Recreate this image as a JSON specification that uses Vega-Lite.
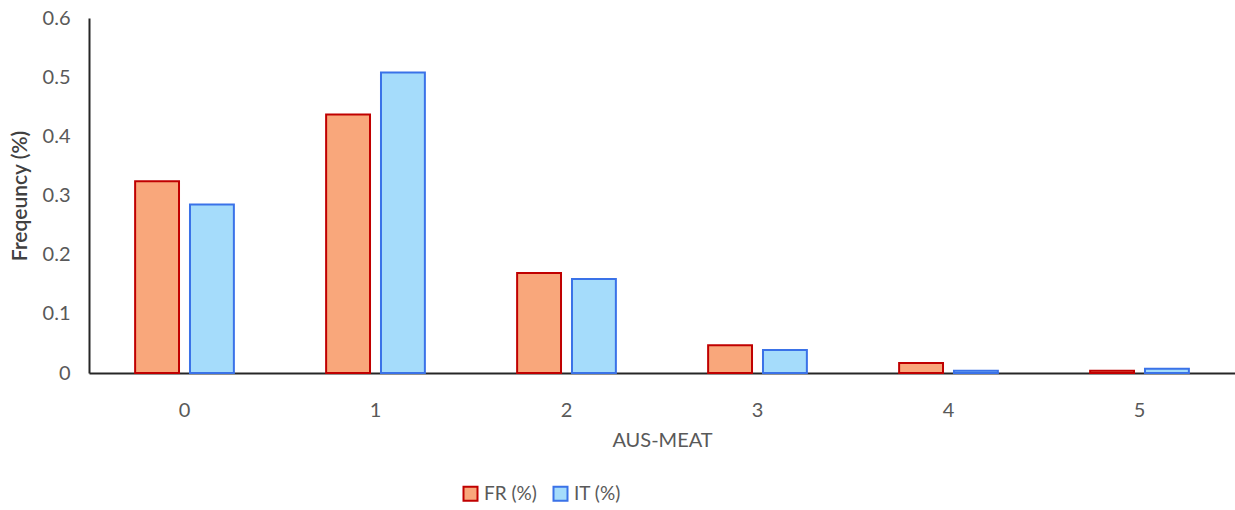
{
  "$schema": "https://vega.github.io/schema/vega-lite/v6.json",
  "width": 1146,
  "height": 355,
  "autosize": {"type": "none"},
  "padding": {"left": 89, "top": 18, "right": 0, "bottom": 137},
  "background": "white",
  "config": {"view": {"stroke": null}, "font": "Lato"},
  "data": {
    "values": [
      {"grade": "0", "series": "FR (%)", "value": 0.324},
      {"grade": "0", "series": "IT (%)", "value": 0.285},
      {"grade": "1", "series": "FR (%)", "value": 0.437},
      {"grade": "1", "series": "IT (%)", "value": 0.508},
      {"grade": "2", "series": "FR (%)", "value": 0.169},
      {"grade": "2", "series": "IT (%)", "value": 0.159},
      {"grade": "3", "series": "FR (%)", "value": 0.047},
      {"grade": "3", "series": "IT (%)", "value": 0.039},
      {"grade": "4", "series": "FR (%)", "value": 0.017},
      {"grade": "4", "series": "IT (%)", "value": 0.004},
      {"grade": "5", "series": "FR (%)", "value": 0.004},
      {"grade": "5", "series": "IT (%)", "value": 0.007}
    ]
  },
  "mark": {"type": "bar", "strokeWidth": 2},
  "encoding": {
    "x": {
      "field": "grade",
      "type": "nominal",
      "scale": {"paddingInner": 0.483, "paddingOuter": 0.2415},
      "axis": {
        "title": "AUS-MEAT",
        "labelAngle": 0,
        "ticks": false,
        "domainColor": "#262626",
        "domainWidth": 2,
        "labelColor": "#595959",
        "labelFontSize": 20,
        "labelPadding": 27,
        "titleColor": "#595959",
        "titleFontSize": 20,
        "titleFontWeight": "normal",
        "titlePadding": 10
      }
    },
    "xOffset": {
      "field": "series",
      "type": "nominal",
      "scale": {"paddingInner": 0.2, "paddingOuter": 0}
    },
    "y": {
      "field": "value",
      "type": "quantitative",
      "scale": {"domain": [0, 0.6], "nice": false},
      "axis": {
        "title": "Freqeuncy (%)",
        "values": [0, 0.1, 0.2, 0.3, 0.4, 0.5, 0.6],
        "format": ".1~f",
        "grid": false,
        "ticks": false,
        "domainColor": "#262626",
        "domainWidth": 2,
        "labelColor": "#595959",
        "labelFontSize": 20,
        "labelPadding": 19,
        "titleColor": "#404040",
        "titleFontSize": 21,
        "titleFontWeight": 600,
        "titlePadding": 12
      }
    },
    "color": {
      "field": "series",
      "type": "nominal",
      "scale": {"domain": ["FR (%)", "IT (%)"], "range": ["#F9A77B", "#A5DCFB"]},
      "legend": {
        "title": null,
        "orient": "none",
        "direction": "horizontal",
        "legendX": 372,
        "legendY": 466,
        "symbolType": "square",
        "symbolSize": 196,
        "symbolStrokeWidth": 2,
        "labelFontSize": 19,
        "labelColor": "#595959",
        "columnPadding": 12,
        "labelOffset": 4
      }
    },
    "stroke": {
      "field": "series",
      "type": "nominal",
      "scale": {"domain": ["FR (%)", "IT (%)"], "range": ["#C00000", "#3A72E8"]},
      "legend": null
    }
  }
}
